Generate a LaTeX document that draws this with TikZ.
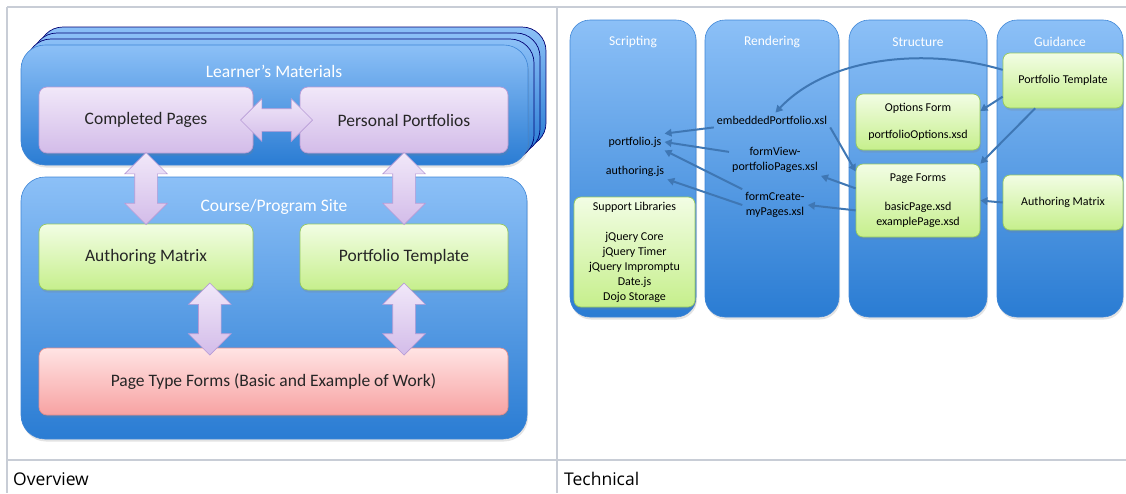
\documentclass[tikz,border=0pt]{standalone}
\usepackage{fontspec}
\setmainfont{Carlito}
\newfontfamily\capfont{Open Sans}
\usetikzlibrary{arrows.meta}
\usetikzlibrary{calc}
\usetikzlibrary{shapes.arrows}
\usetikzlibrary{shadows}

\definecolor{blueTop}{HTML}{8CC0F7}
\definecolor{blueBot}{HTML}{2A7CD3}
\definecolor{blueEdge}{HTML}{3F86D6}
\definecolor{purpTop}{HTML}{F1E8F9}
\definecolor{purpBot}{HTML}{D3BCE9}
\definecolor{purpEdge}{HTML}{B79BD6}
\definecolor{grnTop}{HTML}{F2FDE4}
\definecolor{grnBot}{HTML}{C6EF8C}
\definecolor{grnEdge}{HTML}{95C95E}
\definecolor{redTop}{HTML}{FFE4E4}
\definecolor{redBot}{HTML}{F7A2A2}
\definecolor{redEdge}{HTML}{E38C8C}
\definecolor{linkBlue}{HTML}{3F77B4}
\definecolor{gridGray}{HTML}{C8CDD6}

\tikzset{
  softshadow/.style={drop shadow={opacity=0.22, shadow xshift=1pt, shadow yshift=-2.5pt}},
  bigbox/.style={rounded corners=24pt, top color=blueTop, bottom color=blueBot,
    draw=blueEdge, line width=0.6pt, softshadow},
  layerbox/.style={rounded corners=24pt, top color=blueTop, bottom color=blueBot,
    draw=blue!45!black, line width=0.7pt},
  colbox/.style={rounded corners=20pt, top color=blueTop, bottom color=blueBot,
    draw=blueEdge, line width=0.6pt, softshadow},
  purplebox/.style={rounded corners=8pt, top color=purpTop, bottom color=purpBot,
    draw=purpEdge, line width=0.7pt, text=black!85,
    font=\fontsize{17.5}{20}\selectfont, softshadow},
  greenbox/.style={rounded corners=8pt, top color=grnTop, bottom color=grnBot,
    draw=grnEdge, line width=0.7pt, text=black!85,
    font=\fontsize{17.5}{20}\selectfont, softshadow},
  redbox/.style={rounded corners=8pt, top color=redTop, bottom color=redBot,
    draw=redEdge, line width=0.7pt, text=black!85,
    font=\fontsize{17.5}{20}\selectfont, softshadow},
  smallgreen/.style={greenbox, rounded corners=7pt, align=center, inner sep=2pt,
    text=black, font=\fontsize{12}{15}\selectfont},
  headtext/.style={text=white, font=\fontsize{17.5}{20}\selectfont},
  colhead/.style={text=white, font=\fontsize{13.5}{16}\selectfont},
  filetext/.style={text=black, align=center, inner sep=3pt,
    font=\fontsize{12}{15}\selectfont},
  bigarrow/.style={double arrow, double arrow head extend=10pt, inner sep=0pt,
    text height=22pt, text depth=0pt, minimum height=72pt,
    top color=purpTop, bottom color=purpBot, draw=purpEdge, line width=0.7pt},
  techarrow/.style={-{Triangle[length=7pt,width=7.5pt]}, line width=2pt, draw=linkBlue},
  gridline/.style={draw=gridGray, line width=1.4pt},
  caplabel/.style={anchor=west, inner sep=0pt, font=\capfont\fontsize{17.5}{20}\selectfont}
}

\begin{document}
\begin{tikzpicture}[x=1pt, y=-1pt]
  \useasboundingbox (0,0) rectangle (1126,493);

  % table
  \draw[gridline] (7,7) -- (1126,7);
  \draw[gridline] (7,460) -- (1126,460);
  \draw[gridline] (7,7) -- (7,493);
  \draw[gridline] (557,7) -- (557,493);
  \node[caplabel] (ovw) at (13,479) {Overview};
  \node[caplabel] (tech) at (564,479) {Technical};

  % overview: learner's materials
  \foreach \d in {18,12,6}
    \draw[layerbox] (21+\d,45-\d) rectangle (528+\d,165-\d);
  \node[bigbox, minimum width=507pt, minimum height=120pt] (lm) at (274.5,105) {};
  \node[headtext] (lmtitle) at (274,71) {Learner's Materials};
  \node[purplebox, minimum width=214pt, minimum height=66pt] (cpages) at (146,120) {Completed Pages};
  \node[purplebox, minimum width=208pt, minimum height=66pt] (ppers) at (404,120) {Personal Portfolios};

  % overview: course site
  \node[bigbox, minimum width=506pt, minimum height=262pt] (site) at (274,308) {};
  \node[headtext] (sitetitle) at (274,207) {Course/Program Site};
  \node[greenbox, minimum width=214pt, minimum height=66pt] (lauth) at (146,257) {Authoring Matrix};
  \node[greenbox, minimum width=208pt, minimum height=66pt] (ltmpl) at (404,257) {Portfolio Template};
  \node[redbox, minimum width=469pt, minimum height=67pt] (ptype) at (273.5,381.5) {Page Type Forms (Basic and Example of Work)};

  \node[bigarrow] (a0) at ($(cpages.east)!.5!(ppers.west)$) {};
  \node[bigarrow, rotate=90] (a1) at ($(cpages.south)!.5!(lauth.north)$) {};
  \node[bigarrow, rotate=90] (a2) at ($(ppers.south)!.5!(ltmpl.north)$) {};
  \node[bigarrow, rotate=90] (a3) at ($(lauth.south)!.5!(ptype.north)$) {};
  \node[bigarrow, rotate=90] (a4) at ($(ltmpl.south)!.5!(ptype.north -| ltmpl.south)$) {};

  % technical: columns
  \node[colbox, minimum width=126pt, minimum height=297pt] (cscript) at (633,168.5) {};
  \node[colbox, minimum width=134pt, minimum height=297pt] (crender) at (772,168.5) {};
  \node[colbox, minimum width=138pt, minimum height=297pt] (cstruct) at (918,168.5) {};
  \node[colbox, minimum width=126pt, minimum height=297pt] (cguide) at (1060,168.5) {};
  \node[colhead] (hscript) at (633,42) {Scripting};
  \node[colhead] (hrender) at (772,42) {Rendering};
  \node[colhead] (hstruct) at (918,42) {Structure};
  \node[colhead] (hguide) at (1060,42) {Guidance};

  % technical: scripting
  \node[filetext] (pjs) at (635,142) {portfolio.js};
  \node[filetext] (ajs) at (635,171) {authoring.js};
  \node[smallgreen, minimum width=121pt, minimum height=110pt, font=\fontsize{12}{15}\selectfont] (slib) at (634.5,252)
    {Support Libraries\\[15pt]jQuery Core\\jQuery Timer\\jQuery Impromptu\\Date.js\\Dojo Storage};

  % technical: rendering
  \node[filetext] (vpx) at (772,120) {embeddedPortfolio.xsl};
  \node[filetext] (fvx) at (775,160) {formView-\\portfolioPages.xsl};
  \node[filetext] (fcx) at (775,205) {formCreate-\\myPages.xsl};

  % technical: structure and guidance
  \node[smallgreen, minimum width=124pt, minimum height=56pt] (optf) at (918,122) {Options Form\\[12pt]portfolioOptions.xsd};
  \node[smallgreen, minimum width=124pt, minimum height=73pt] (pgf) at (918,200.5) {Page Forms\\[14pt]basicPage.xsd\\examplePage.xsd};
  \node[smallgreen, minimum width=120pt, minimum height=55pt] (ptmpl) at (1063,80.5) {Portfolio Template};
  \node[smallgreen, minimum width=120pt, minimum height=55pt] (amtx) at (1063,202.5) {Authoring Matrix};

  % links
  \draw[techarrow] (ptmpl.170) .. controls (930,48) and (830,55) .. (vpx.65);
  \draw[techarrow] (ptmpl.195) -- (optf.10);
  \draw[techarrow] (ptmpl.225) -- (pgf.north east);
  \draw[techarrow] (amtx.west) -- (pgf.east);
  \draw[techarrow] (vpx.south east) -- (pgf.155);
  \draw[techarrow] (pgf.169) -- (fvx.south east);
  \draw[techarrow] (pgf.189) -- (fcx.east);
  \draw[techarrow] (vpx.south west) -- (pjs.north east);
  \draw[techarrow] (fvx.170) -- (pjs.east);
  \draw[techarrow] (fcx.north west) -- (pjs.south east);
  \draw[techarrow] (fcx.west) -- (ajs.south east);
\end{tikzpicture}
\end{document}
